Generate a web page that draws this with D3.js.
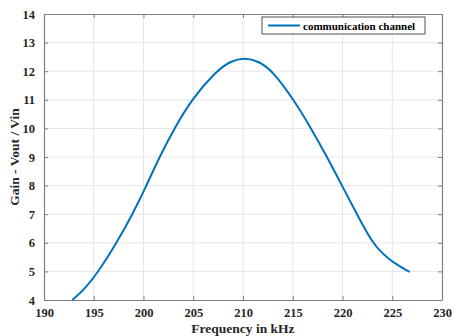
<!DOCTYPE html>
<html><head><meta charset="utf-8">
<script src="https://cdn.jsdelivr.net/npm/d3@7"></script>
<style>body{margin:0;background:#fff}svg{display:block}</style>
</head><body><div id="c"></div>
<script>
const freq = [192.85, 194.0, 195.5, 197.3, 198.9, 200.3, 201.6, 203.1, 204.8, 207.3, 208.7, 210.15, 211.6, 213.0, 215.1, 216.85, 218.45, 219.95, 221.45, 223.0, 224.1, 225.0, 226.75];
const gain = [4.0, 4.35, 5.0, 6.0, 7.0, 8.0, 9.0, 10.0, 11.0, 12.0, 12.35, 12.48, 12.35, 12.0, 11.0, 10.0, 9.0, 8.0, 7.0, 6.0, 5.6, 5.33, 4.98];
const xTicks = [190, 195, 200, 205, 210, 215, 220, 225, 230];
const yTicks = [4, 5, 6, 7, 8, 9, 10, 11, 12, 13, 14];
const seriesName = "communication channel";
const xLabel = "Frequency in kHz";
const yLabel = "Gain - Vout / Vin";

const W = 452, H = 336;
const m = {l: 44, r: 10, t: 14, b: 36};
const svg = d3.select("#c").append("svg").attr("width", W).attr("height", H);
const x = d3.scaleLinear().domain([190, 230]).range([m.l, W - m.r]);
const y = d3.scaleLinear().domain([4, 14]).range([H - m.b, m.t]);
const font = "'Liberation Serif', 'Times New Roman', serif";
const axCol = "#808080";

// grid
svg.append("g").selectAll("line").data(xTicks.slice(1, -1)).join("line")
  .attr("x1", d => x(d)).attr("x2", d => x(d)).attr("y1", y(4)).attr("y2", y(14))
  .attr("stroke", "#e6e6e6").attr("stroke-width", 1);
svg.append("g").selectAll("line").data(yTicks.slice(1, -1)).join("line")
  .attr("y1", d => y(d)).attr("y2", d => y(d)).attr("x1", x(190)).attr("x2", x(230))
  .attr("stroke", "#e6e6e6").attr("stroke-width", 1);

// axes
const tickLen = -4;
const xa = svg.append("g").attr("transform", `translate(0,${y(4)})`)
  .call(d3.axisBottom(x).tickValues(xTicks).tickSizeInner(tickLen).tickSizeOuter(0).tickPadding(10));
const xt = svg.append("g").attr("transform", `translate(0,${y(14)})`)
  .call(d3.axisTop(x).tickValues(xTicks).tickSizeInner(tickLen).tickSizeOuter(0).tickFormat(""));
const ya = svg.append("g").attr("transform", `translate(${x(190)},0)`)
  .call(d3.axisLeft(y).tickValues(yTicks).tickSizeInner(tickLen).tickSizeOuter(0).tickPadding(9));
const yr = svg.append("g").attr("transform", `translate(${x(230)},0)`)
  .call(d3.axisRight(y).tickValues(yTicks).tickSizeInner(tickLen).tickSizeOuter(0).tickFormat(""));
[xa, xt, ya, yr].forEach(g => {
  g.attr("font-family", font).attr("font-size", 12.5).attr("font-weight", "bold");
  g.selectAll("path").attr("stroke", axCol).attr("stroke-width", 1.2);
  g.selectAll("line").attr("stroke", axCol);
  g.selectAll("text").attr("fill", "#262626");
});
xa.selectAll("text").attr("dy", "0.55em");

// line
const data = freq.map((f, i) => [f, gain[i]]);
svg.append("path").datum(data)
  .attr("fill", "none").attr("stroke", "#0072BD").attr("stroke-width", 2)
  .attr("d", d3.line().x(d => x(d[0])).y(d => y(d[1])).curve(d3.curveBasis));

// labels
svg.append("text").attr("x", (x(190) + x(230)) / 2).attr("y", 333)
  .attr("text-anchor", "middle").attr("font-family", font).attr("font-size", 13.5)
  .attr("font-weight", "bold").attr("fill", "#262626").text(xLabel);
svg.append("text").attr("transform", `translate(19,${(y(4) + y(14)) / 2}) rotate(-90)`)
  .attr("text-anchor", "middle").attr("font-family", font).attr("font-size", 13.5)
  .attr("font-weight", "bold").attr("fill", "#262626").text(yLabel);

// legend
const lg = svg.append("g");
lg.append("rect").attr("x", 262).attr("y", 17).attr("width", 163).attr("height", 17)
  .attr("fill", "#fff").attr("stroke", "#262626").attr("stroke-width", 0.8);
lg.append("line").attr("x1", 268).attr("x2", 300).attr("y1", 25.5).attr("y2", 25.5)
  .attr("stroke", "#0072BD").attr("stroke-width", 2);
lg.append("text").attr("x", 303).attr("y", 29.5).attr("font-family", font)
  .attr("font-size", 11).attr("font-weight", "bold").attr("fill", "#000").text(seriesName);
</script></body></html>
